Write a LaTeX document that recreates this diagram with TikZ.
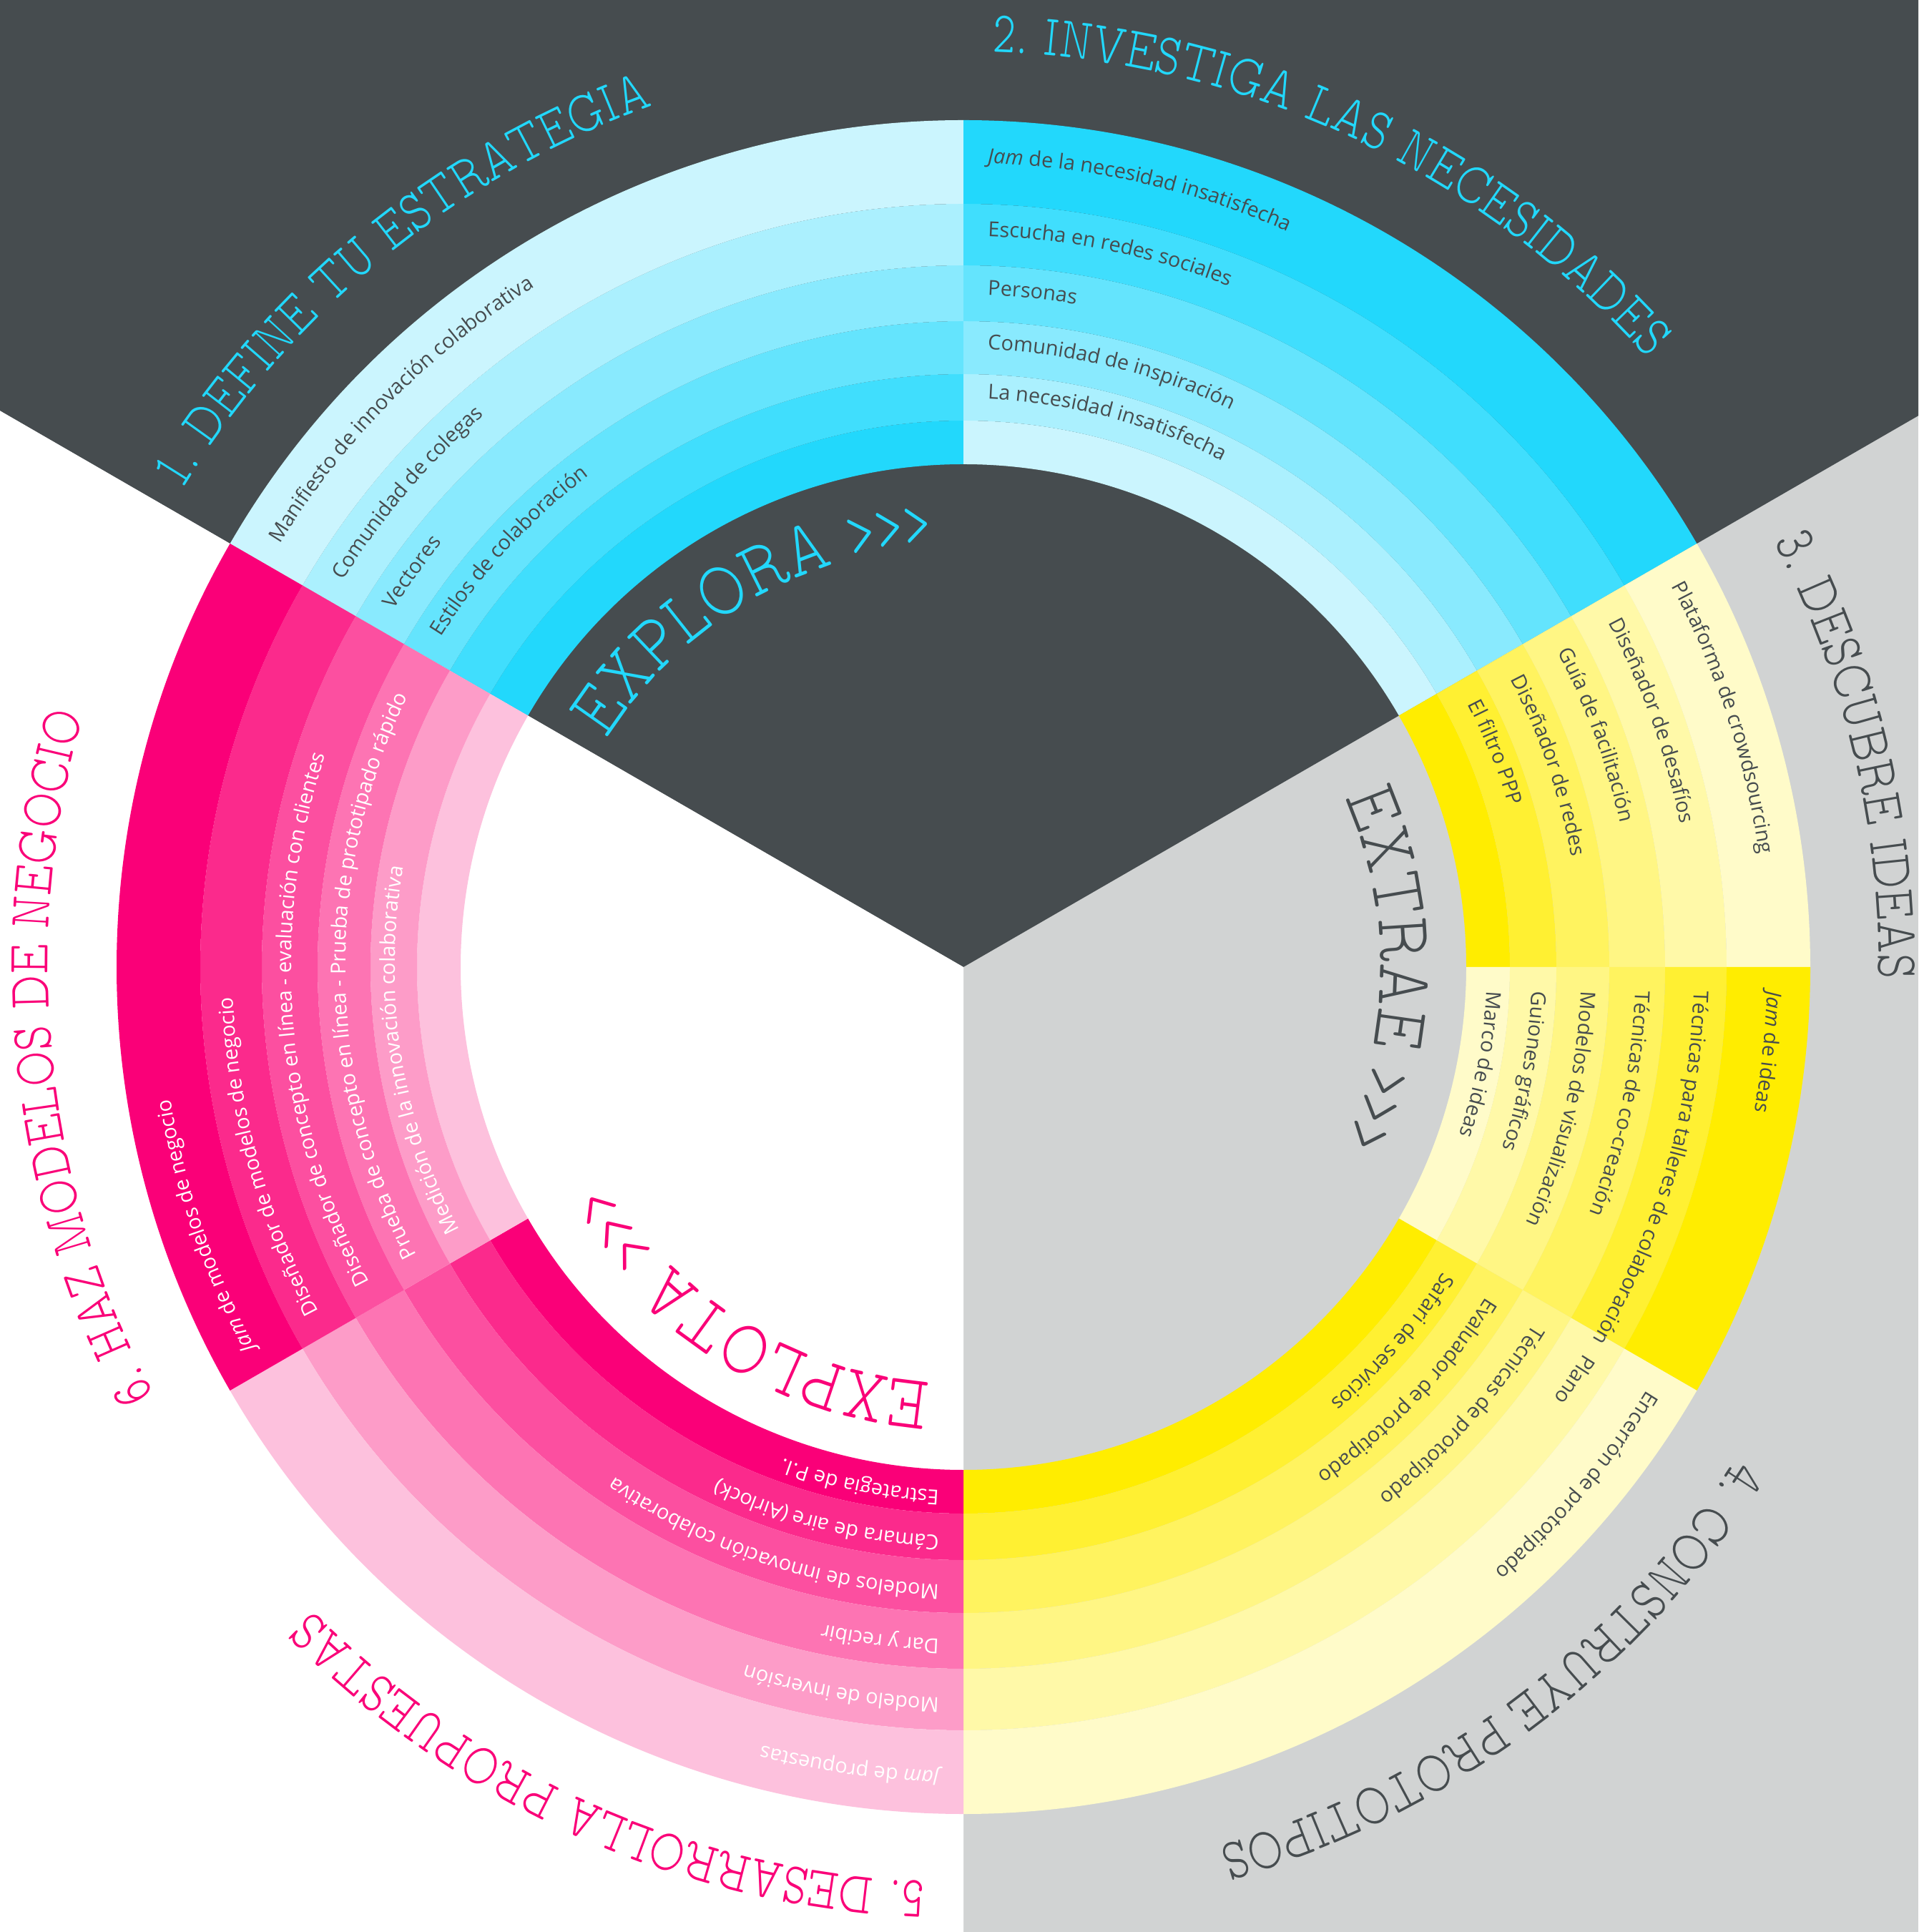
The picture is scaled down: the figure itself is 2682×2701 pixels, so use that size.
\documentclass[tikz,border=0pt]{standalone}
\usepackage{fontspec}
\usepackage{tikz}
\usetikzlibrary{decorations.text}
\newfontfamily\opensans{Open Sans}
\newfontfamily\slabfont{lmmonoproplt10-regular.otf}[FakeStretch=0.74]
\definecolor{slate}{RGB}{70,76,79}
\definecolor{fog}{RGB}{209,211,211}
\definecolor{cy1}{RGB}{34,216,252}
\definecolor{cy2}{RGB}{64,222,253}
\definecolor{cy3}{RGB}{100,228,253}
\definecolor{cy4}{RGB}{137,234,254}
\definecolor{cy5}{RGB}{171,240,254}
\definecolor{cy6}{RGB}{203,245,254}
\definecolor{ye1}{RGB}{255,237,0}
\definecolor{ye2}{RGB}{255,240,50}
\definecolor{ye3}{RGB}{255,243,95}
\definecolor{ye4}{RGB}{255,246,132}
\definecolor{ye5}{RGB}{255,249,168}
\definecolor{ye6}{RGB}{255,251,201}
\definecolor{pk1}{RGB}{250,0,120}
\definecolor{pk2}{RGB}{251,42,140}
\definecolor{pk3}{RGB}{252,79,160}
\definecolor{pk4}{RGB}{253,116,179}
\definecolor{pk5}{RGB}{253,156,200}
\definecolor{pk6}{RGB}{253,193,221}
\newcommand\itemfont{\opensans\fontsize{8.2}{10}\selectfont}
\newcommand\headsize{\fontsize{23.3}{28}\selectfont}
\newcommand\bigsize{\fontsize{30.7}{36}\selectfont}
\newcommand\chevsize{\fontsize{27.5}{32}\selectfont}
\newcommand\ringitem[4]{%
  \pgfmathsetmacro\itemstart{#1-asin(34/#2)}%
  \path[item text={#3}{#4}] (\itemstart:#2) arc[start angle=\itemstart, end angle=\itemstart-58, radius=#2];}

\begin{document}
\begin{tikzpicture}[x=0.01cm, y=0.01cm]%
  \tikzset{item text/.style 2 args={decorate, decoration={text along path, text align=left, text color=#1, text={|\itemfont|#2}}},
    arc text/.style n args={3}{decorate, decoration={text along path, text align=left, text color=#1, text={|\slabfont#2|#3}}}}

  \useasboundingbox (-1347,-1349) rectangle (1335,1352);
  \clip (-1347,-1349) rectangle (1335,1352);
  \fill[fog] (-1347,-1349) rectangle (1335,1352);
  \fill[slate] (0,0) -- (30:3000) -- (90:3000) -- (150:3000) -- cycle;
  \fill[white] (0,0) -- (150:3000) -- (210:3000) -- (270:3000) -- cycle;

  \foreach \sa/\sb/\hue/\flip in {90/150/cy/0, 30/90/cy/1, 0/30/ye/0, -30/0/ye/1, -90/-30/ye/0, -150/-90/pk/0, 150/210/pk/1}{
    \foreach \ri/\ro [count=\k] in {703/764, 764/829, 829/903, 903/981, 981/1067, 1067/1184}{
      \pgfmathtruncatemacro\shade{\flip==0 ? \k : 7-\k}
      \fill[\hue\shade] (\sa:\ri) arc[start angle=\sa, end angle=\sb, radius=\ri]
        -- (\sb:\ro) arc[start angle=\sb, end angle=\sa, radius=\ro] -- cycle;
    }
  }

  \ringitem{150}{1124}{slate}{Manifiesto de innovación colaborativa}
  \ringitem{150}{1022}{slate}{Comunidad de colegas}
  \ringitem{150}{940}{slate}{Vectores}
  \ringitem{150}{864}{slate}{Estilos de colaboración}

  \ringitem{90}{1124}{slate}{|\itemfont\itshape|Jam|\itemfont| de la necesidad insatisfecha}
  \ringitem{90}{1022}{slate}{Escucha en redes sociales}
  \ringitem{90}{940}{slate}{Personas}
  \ringitem{90}{864}{slate}{Comunidad de inspiración}
  \ringitem{90}{795}{slate}{La necesidad insatisfecha}

  \ringitem{30}{1124}{slate}{Plataforma de crowdsourcing}
  \ringitem{30}{1022}{slate}{Diseñador de desafíos}
  \ringitem{30}{940}{slate}{Guía de facilitación}
  \ringitem{30}{864}{slate}{Diseñador de redes}
  \ringitem{30}{795}{slate}{El filtro PPP}

  \ringitem{0}{1124}{slate}{|\itemfont\itshape|Jam|\itemfont| de ideas}
  \ringitem{0}{1022}{slate}{Técnicas para talleres de colaboración}
  \ringitem{0}{940}{slate}{Técnicas de co-creación}
  \ringitem{0}{864}{slate}{Modelos de visualización}
  \ringitem{0}{795}{slate}{Guiones gráficos}
  \ringitem{0}{732}{slate}{Marco de ideas}

  \ringitem{-30}{1124}{slate}{Encerrón de prototipado}
  \ringitem{-30}{1022}{slate}{Plano}
  \ringitem{-30}{940}{slate}{Técnicas de prototipado}
  \ringitem{-30}{864}{slate}{Evaluador de prototipado}
  \ringitem{-30}{795}{slate}{Safari de servicios}

  \ringitem{270}{1124}{white}{|\itemfont\itshape|Jam|\itemfont| de propuestas}
  \ringitem{270}{1022}{white}{Modelo de inversión}
  \ringitem{270}{940}{white}{Dar y recibir}
  \ringitem{270}{864}{white}{Modelos de innovación colaborativa}
  \ringitem{270}{795}{white}{Cámara de aire (Airlock)}
  \ringitem{270}{732}{white}{Estrategia de P.I.}

  \ringitem{210}{1124}{white}{|\itemfont\itshape|Jam|\itemfont| de modelos de negocio}
  \ringitem{210}{1022}{white}{Diseñador de modelos de negocio}
  \ringitem{210}{940}{white}{Diseñador de concepto en línea - evaluación con clientes}
  \ringitem{210}{864}{white}{Prueba de concepto en línea - Prueba de prototipado rápido}
  \ringitem{210}{795}{white}{Medición de la innovación colaborativa}

  \path[arc text={cy1}{\headsize}{1. DEFINE TU ESTRATEGIA}] (148.6:1280) arc[start angle=148.6, end angle=90, radius=1280];
  \path[arc text={cy1}{\headsize}{2. INVESTIGA LAS NECESIDADES}] (88.2:1280) arc[start angle=88.2, end angle=20, radius=1280];
  \path[arc text={slate}{\headsize}{3. DESCUBRE IDEAS}] (27.7:1280) arc[start angle=27.7, end angle=-25, radius=1280];
  \path[arc text={slate}{\headsize}{4. CONSTRUYE PROTOTIPOS}] (-32.5:1280) arc[start angle=-32.5, end angle=-88, radius=1280];
  \path[arc text={pk1}{\headsize}{5. DESARROLLA PROPUESTAS}] (267.6:1280) arc[start angle=267.6, end angle=212, radius=1280];
  \path[arc text={pk1}{\headsize}{6. HAZ MODELOS DE NEGOCIO}] (207.9:1280) arc[start angle=207.9, end angle=152, radius=1280];

  \path[arc text={cy1}{\bigsize}{EXPLORA |\slabfont\chevsize|>>>}] (147.5:592) arc[start angle=147.5, end angle=60, radius=592];
  \path[arc text={slate}{\bigsize}{EXTRAE |\slabfont\chevsize|>>>}] (24:583) arc[start angle=24, end angle=-60, radius=583];
  \path[arc text={pk1}{\bigsize}{EXPLOTA |\slabfont\chevsize|>>>}] (265.5:583) arc[start angle=265.5, end angle=180, radius=583];
\end{tikzpicture}
\end{document}
